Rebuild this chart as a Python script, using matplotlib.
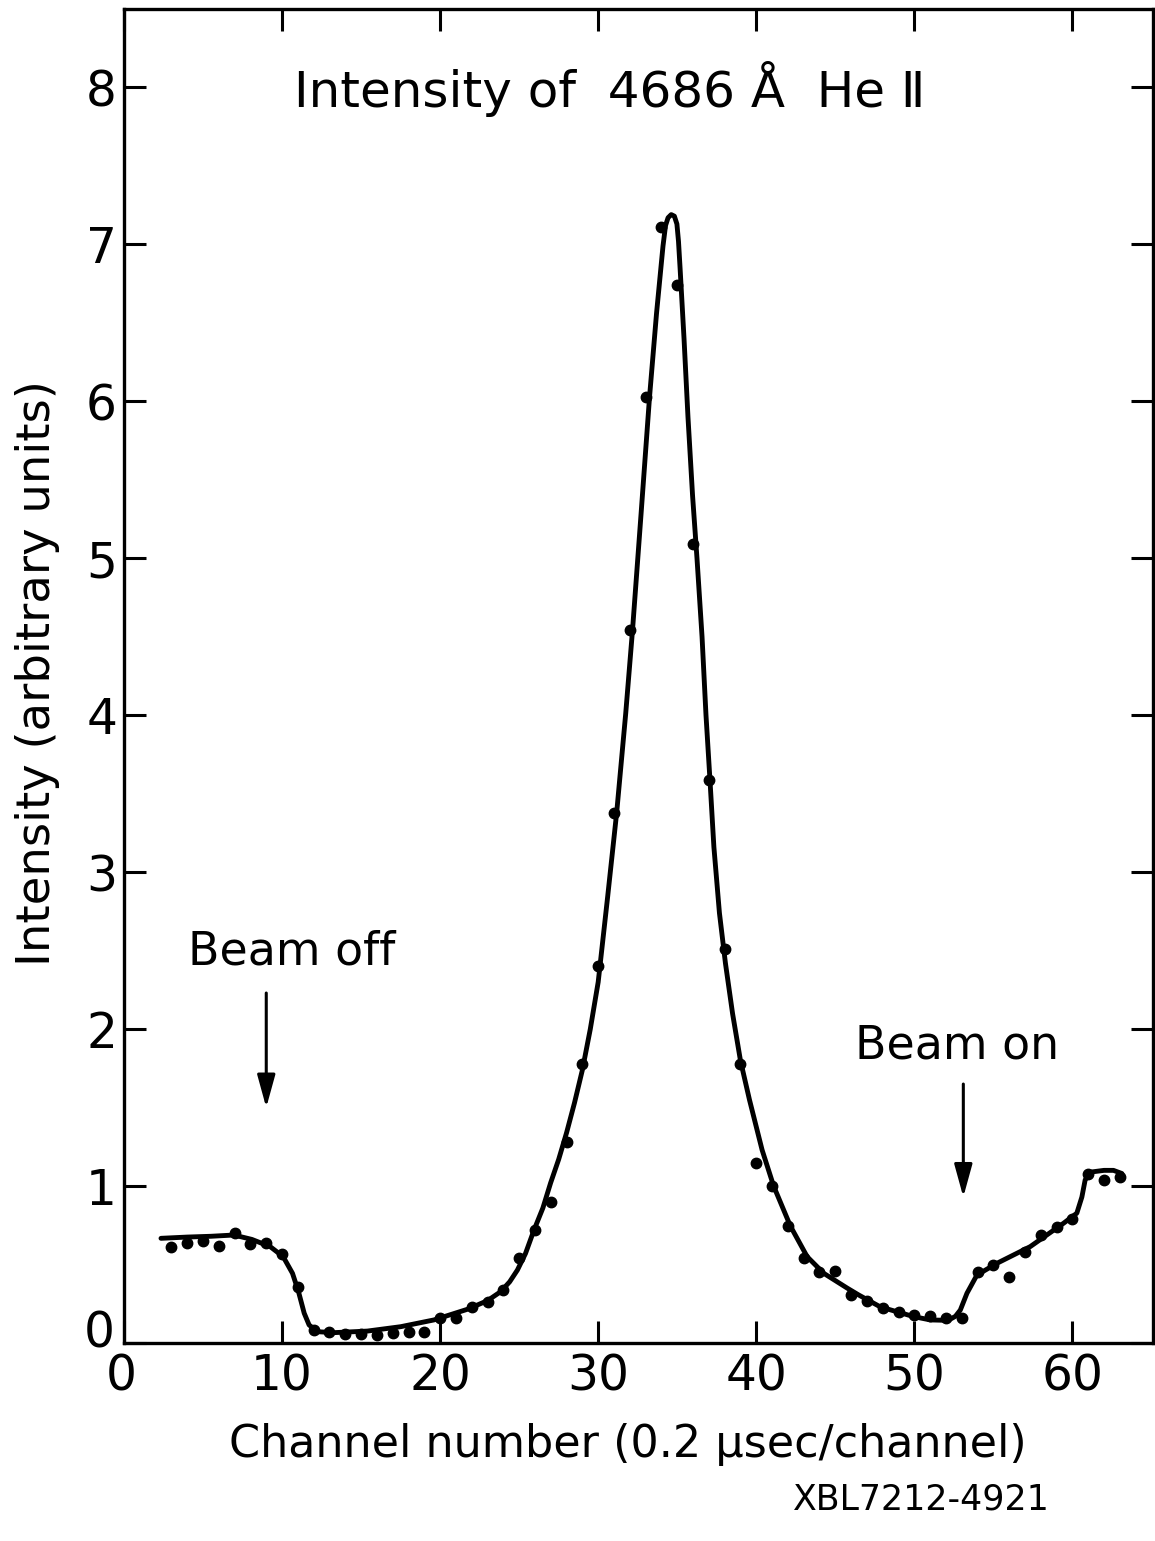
import matplotlib
matplotlib.use("Agg")
import matplotlib.pyplot as plt
from matplotlib.transforms import ScaledTranslation

plt.rcParams['font.family'] = ['DejaVu Sans']

# ---- data: measured points (channel, intensity) ----
channels = list(range(3, 64))
intensity = [
    0.61, 0.635, 0.65, 0.62, 0.70, 0.63, 0.64, 0.57, 0.36, 0.083,   # 3-12
    0.068, 0.055, 0.057, 0.051, 0.062, 0.072, 0.068, 0.16, 0.157, 0.23,  # 13-22
    0.26, 0.34, 0.54, 0.72, 0.90, 1.28, 1.78, 2.40, 3.38, 4.54,     # 23-32
    6.03, 7.11, 6.74, 5.09, 3.59, 2.51, 1.78, 1.15, 1.00, 0.745,    # 33-42
    0.54, 0.455, 0.46, 0.306, 0.268, 0.22, 0.20, 0.18, 0.172, 0.157,  # 43-52
    0.157, 0.45, 0.50, 0.42, 0.58, 0.69, 0.74, 0.79, 1.08, 1.04,    # 53-62
    1.056,                                                          # 63
]

# ---- data: hand-drawn smooth curve ----
curve_x = [2.34, 4.0, 5.5, 6.95, 8.09, 9.25, 10.07, 10.66, 11.04, 11.40,
           11.71, 12.24, 13.29, 15.40, 17.51, 19.61, 21.73, 23.0, 23.83, 24.4,
           24.89, 25.4, 25.94, 26.5, 26.99, 27.5, 28.0, 28.5, 29.0, 29.5,
           30.0, 30.6, 31.17, 31.74, 32.17, 32.71, 33.25, 33.69, 34.10, 34.26,
           34.42, 34.62, 34.82, 34.98, 35.08, 35.18, 35.43, 35.68, 35.97, 36.25,
           36.57, 36.82, 37.07, 37.32, 37.67, 38.05, 38.5, 39.0, 39.57, 40.37,
           41.1, 42.16, 43.22, 44.27, 45.75, 46.48, 47.85, 49.96, 51.01, 51.8,
           52.28, 52.6, 52.91, 53.33, 53.96, 55.23, 57.33, 59.44, 60.28, 60.6,
           60.81, 61.23, 62.0, 62.6, 63.13]
curve_y = [0.667, 0.675, 0.68, 0.688, 0.66, 0.614, 0.55, 0.444, 0.327, 0.19,
           0.115, 0.072, 0.066, 0.076, 0.104, 0.147, 0.215, 0.27, 0.327, 0.39,
           0.465, 0.57, 0.72, 0.86, 1.02, 1.17, 1.34, 1.53, 1.74, 2.0,
           2.30, 2.845, 3.38, 4.01, 4.54, 5.28, 6.03, 6.56, 6.99, 7.12,
           7.17, 7.19, 7.18, 7.13, 7.02, 6.85, 6.4, 5.9, 5.4, 5.0,
           4.5, 4.0, 3.59, 3.16, 2.74, 2.42, 2.10, 1.80, 1.55, 1.23,
           1.0, 0.745, 0.55, 0.444, 0.35, 0.306, 0.23, 0.168, 0.147, 0.145,
           0.152, 0.17, 0.21, 0.317, 0.433, 0.508, 0.614, 0.763, 0.827, 0.93,
           1.04, 1.09, 1.10, 1.10, 1.08]

x_ticks = [0, 10, 20, 30, 40, 50, 60]
y_ticks = [0, 1, 2, 3, 4, 5, 6, 7, 8]

title_text = "Intensity of  4686 Å  He Ⅱ"
x_label = "Channel number (0.2 μsec/channel)"
y_label = "Intensity (arbitrary units)"
note_text = "XBL7212-4921"

W, H = 1155, 1541
fig = plt.figure(figsize=(W / 100, H / 100), dpi=100)
ax = fig.add_axes([124 / W, 1 - 1343 / H, (1153 - 124) / W, (1343 - 9) / H])

ax.plot(curve_x, curve_y, color='black', lw=3.5, solid_capstyle='round',
        solid_joinstyle='round')
ax.plot(channels, intensity, 'o', color='black', ms=7.5, mec='black')

ax.set_xlim(0, 65.1)
ax.set_ylim(0, 8.5)
ax.set_xticks(x_ticks)
ax.set_yticks(y_ticks)
ax.tick_params(direction='in', length=16, width=2.2, top=True, right=True,
               labelsize=35, colors='black')
ax.tick_params(axis='x', pad=7)
ax.tick_params(axis='y', pad=5)
for s in ax.spines.values():
    s.set_linewidth(2.4)

# lift the y "0" label a little, as in the original lettering
ylab0 = ax.get_yticklabels()[0]
ylab0.set_transform(ylab0.get_transform() +
                    ScaledTranslation(-2 / 100, 15 / 100, fig.dpi_scale_trans))
xlab0 = ax.get_xticklabels()[0]
xlab0.set_transform(xlab0.get_transform() +
                    ScaledTranslation(-3 / 100, 0, fig.dpi_scale_trans))

ax.text(30.7, 7.99, title_text, fontsize=36, ha='center', va='center')
ax.text(10.6, 2.49, "Beam off", fontsize=33, ha='center', va='center')
ax.text(52.7, 1.89, "Beam on", fontsize=33, ha='center', va='center')

arrow_style = dict(arrowstyle='-|>,head_length=0.8,head_width=0.22', lw=2.2,
                   color='black', mutation_scale=25, shrinkA=0, shrinkB=0)
ax.annotate('', xy=(9.0, 1.50), xytext=(9.0, 2.23), arrowprops=arrow_style)
ax.annotate('', xy=(53.1, 0.93), xytext=(53.1, 1.65), arrowprops=arrow_style)

fig.text(628 / W, 1 - 1445 / H, x_label, fontsize=32, ha='center', va='center')
fig.text(38 / W, 1 - 673 / H, y_label, fontsize=33.5, ha='center', va='center',
         rotation=90)
fig.text(921 / W, 1 - 1500 / H, note_text, fontsize=25, ha='center', va='center')

fig.savefig('out.png', dpi=100, facecolor='white')
